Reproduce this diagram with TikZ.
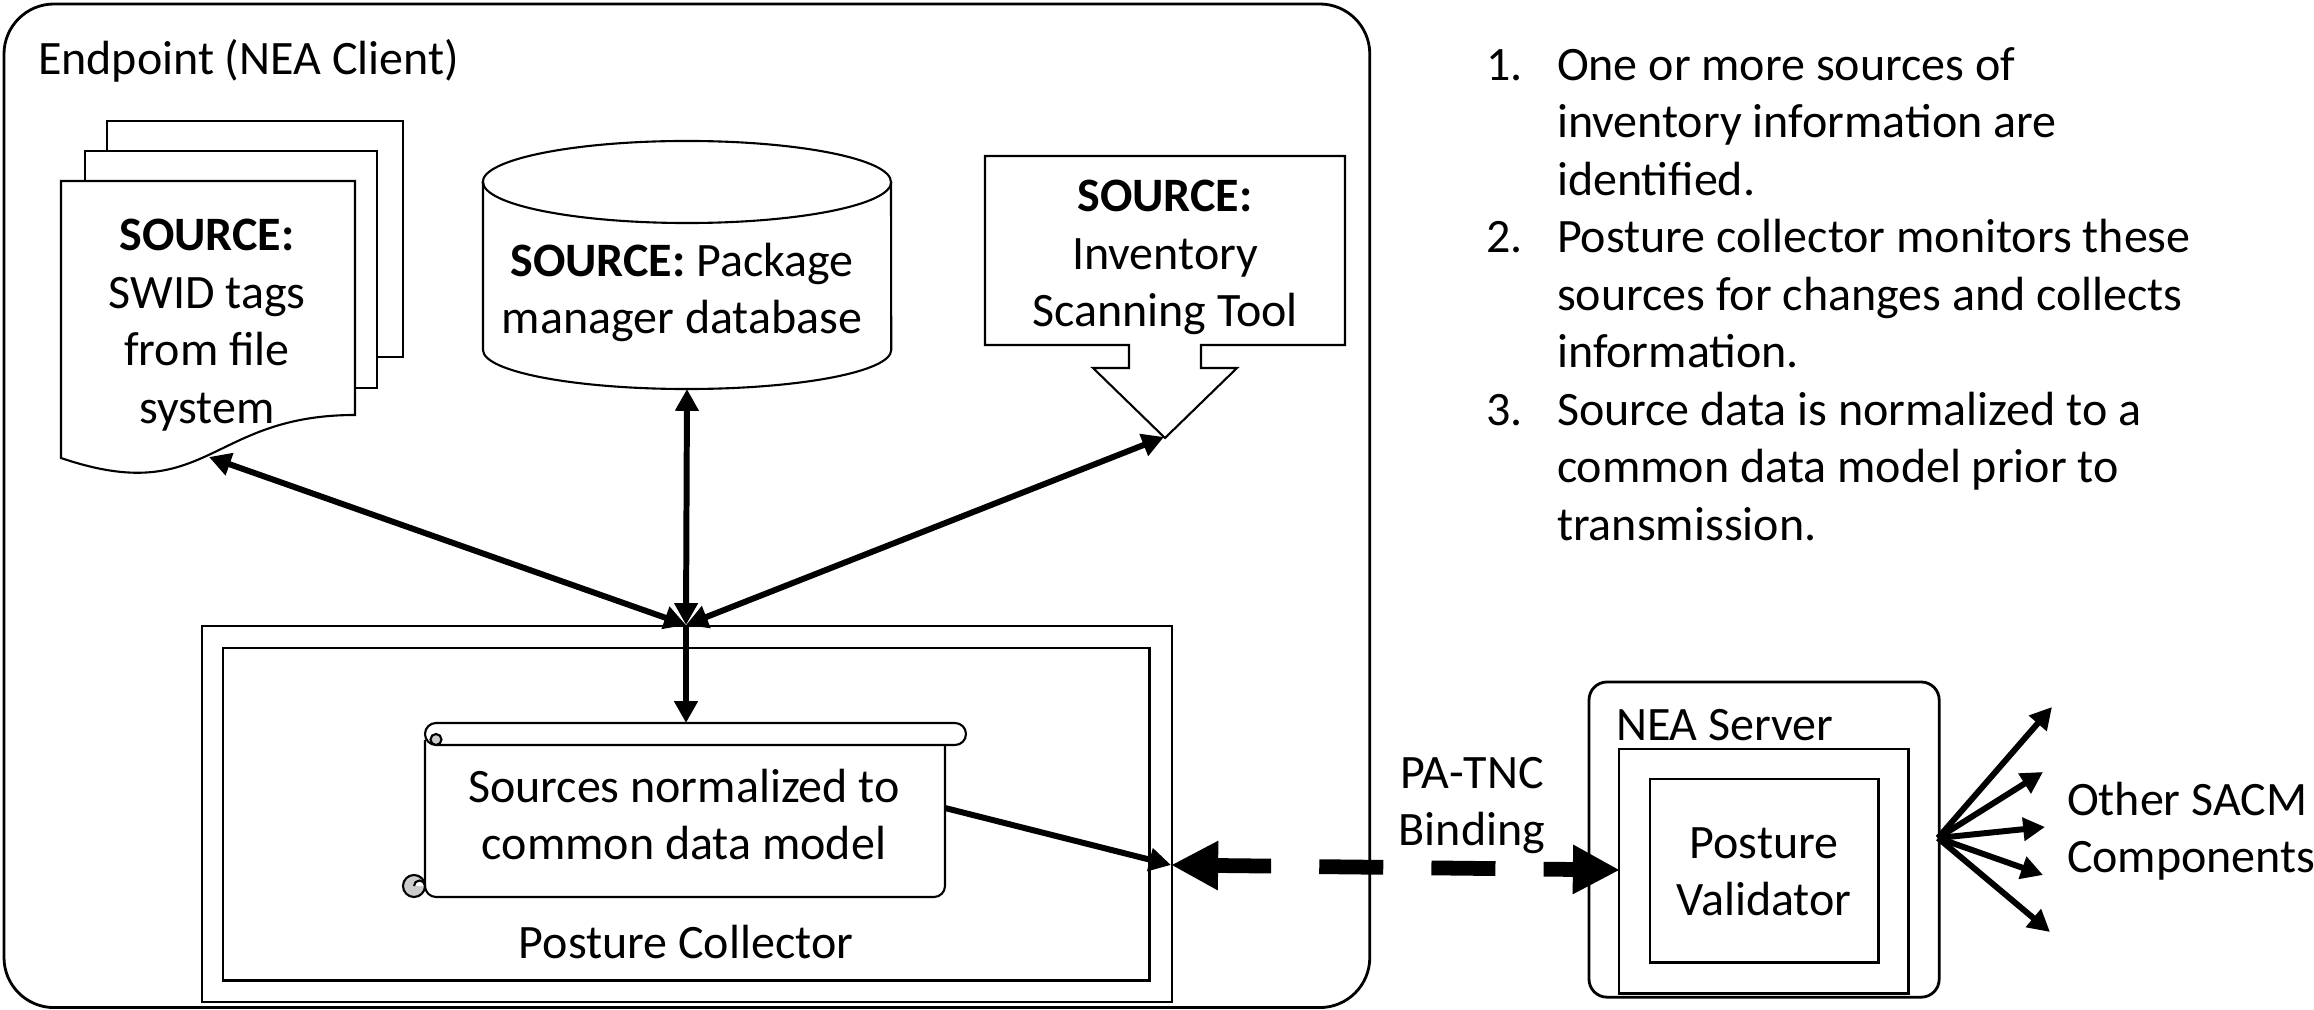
\documentclass[tikz,border=0pt]{standalone}
\usepackage{fontspec}
\setmainfont{Carlito}
\usetikzlibrary{arrows.meta}
\newcommand\dfont{\fontsize{13.65}{16.35}\selectfont}
\begin{document}
\begin{tikzpicture}[x=0.01cm,y=-0.01cm,
  every node/.style={font=\dfont, inner sep=0pt, outer sep=0pt},
  txt/.style={align=center, execute at begin node=\strut, execute at end node=\strut},
  ltxt/.style={align=left, execute at begin node=\strut, execute at end node=\strut},
  shapeline/.style={draw=black, line width=0.6pt, fill=white},
  boxline/.style={draw=black, line width=0.8pt},
  conn/.style={draw=black, line width=1.7pt},
  onehead/.style={-{Triangle[length=6.2pt,width=6.4pt]}},
  twohead/.style={{Triangle[length=6.2pt,width=6.4pt]}-{Triangle[length=6.2pt,width=6.4pt]}},
  bigdash/.style={draw=black, line width=4.2pt, dash pattern=on 18.2pt off 13.7pt, dash phase=2.3pt,
    {Triangle[length=13.4pt,width=13.1pt]}-{Triangle[length=13.4pt,width=13.1pt]}},
]
\useasboundingbox (0,0) rectangle (2314,1010);

% Endpoint container
\node[boxline, rounded corners=0.5cm, minimum width=13.65cm, minimum height=10.03cm, anchor=north west] (endpoint) at (4,4) {};
\node[anchor=base west] (eptitle) at (38,75) {Endpoint (NEA Client)};

% SWID tag document stack
\draw[shapeline] (107,121) rectangle (403,357);
\draw[shapeline] (85,151) rectangle (377,388);
\draw[shapeline] (61,181) -- (355,181) -- (355,415) .. controls (208,415) and (208,508) .. (61,458) -- cycle;
\node[txt] (swid) at (207,330) {\textbf{SOURCE:}\\SWID tags\\from file\\system};
\coordinate (swidport) at (209,457);

% Package database cylinder
\draw[shapeline] (483,182) -- (483,350) arc[start angle=180, end angle=360, x radius=2.04cm, y radius=0.39cm] -- (891,182) arc[start angle=0, end angle=180, x radius=2.04cm, y radius=0.41cm] -- cycle;
\draw[shapeline, fill=none] (483,182) arc[start angle=180, end angle=360, x radius=2.04cm, y radius=0.41cm];
\node[txt] (pkg) at (682,297) {\textbf{SOURCE:} Package\\manager database};
\coordinate (pkgport) at (687,389);

% Inventory scanning tool callout
\draw[shapeline] (985,156) -- (1345,156) -- (1345,345) -- (1201,345) -- (1201,368) -- (1237,368) -- (1165,438) -- (1093,368) -- (1129,368) -- (1129,345) -- (985,345) -- cycle;
\node[txt] (scan) at (1165,262) {\textbf{SOURCE:}\\Inventory\\Scanning Tool};
\coordinate (scanport) at (1164,437);

% Posture collector
\node[draw, line width=0.6pt, minimum width=9.69cm, minimum height=3.76cm, anchor=north west] (pcout) at (202,626) {};
\node[draw, line width=0.8pt, minimum width=9.26cm, minimum height=3.32cm, anchor=north west] (pcin) at (223,648) {};
\node[anchor=base] (pclabel) at (686,959) {Posture Collector};
\coordinate (hub) at (686,625);
\coordinate (pcport) at (1171,865);

% Scroll
\draw[shapeline, rounded corners=0.11cm] (425,740) -- (425,897) -- (945,897) -- (945,740);
\draw[shapeline] (436,723) -- (955,723) arc[start angle=90, end angle=-90, radius=0.11cm] -- (436,745) arc[start angle=270, end angle=90, radius=0.11cm] -- cycle;
\draw[shapeline, fill=gray!40] (436,739.5) circle[radius=0.055cm];
\draw[shapeline, fill=gray!40] (414,886) circle[radius=0.11cm];
\draw[shapeline] (414,886) arc[start angle=180, end angle=0, radius=0.055cm];
\node[txt] (norm) at (684,823) {Sources normalized to\\common data model};
\coordinate (scrolltop) at (686,723);
\coordinate (scrollport) at (945,808);

% Connectors inside endpoint
\draw[conn, twohead] (hub) -- (swidport);
\draw[conn, twohead] (hub) -- (pkgport);
\draw[conn, twohead] (hub) -- (scanport);
\draw[conn, onehead] (hub) -- (scrolltop);
\draw[conn, onehead] (scrollport) -- (pcport);

% NEA server
\node[boxline, rounded corners=0.18cm, minimum width=3.50cm, minimum height=3.15cm, anchor=north west] (server) at (1589,682) {};
\node[anchor=base west] (srvlabel) at (1616,741) {NEA Server};
\node[boxline, minimum width=2.89cm, minimum height=2.44cm, anchor=north west] (srvin) at (1619,749) {};
\node[boxline, minimum width=2.28cm, minimum height=1.83cm, anchor=north west] (validator) at (1650,779) {};
\node[txt] (pvtext) at (1764,880) {Posture\\Validator};
\coordinate (srvport) at (1620,870);

% PA-TNC binding
\draw[bigdash] (pcport) -- (srvport);
\node[txt] (binding) at (1472,810) {PA-TNC\\Binding};

% Fan to other SACM components
\coordinate (fan) at (1938,838);
\coordinate (o1) at (2052,707);
\coordinate (o2) at (2043,772);
\coordinate (o3) at (2045,827);
\coordinate (o4) at (2043,875);
\coordinate (o5) at (2050,932);
\foreach \t in {o1,o2,o3,o4,o5} \draw[conn, onehead] (fan) -- (\t);
\node[ltxt, anchor=west] (others) at (2067,836) {Other SACM\\Components};

% Steps list
\node[anchor=north west] (steps) at (1486,40) {\begin{tabular}{@{}p{0.71cm}@{}l@{}}
1. & One or more sources of\\
 & inventory information are\\
 & identified.\\
2. & Posture collector monitors these\\
 & sources for changes and collects\\
 & information.\\
3. & Source data is normalized to a\\
 & common data model prior to\\
 & transmission.
\end{tabular}};
\end{tikzpicture}
\end{document}
